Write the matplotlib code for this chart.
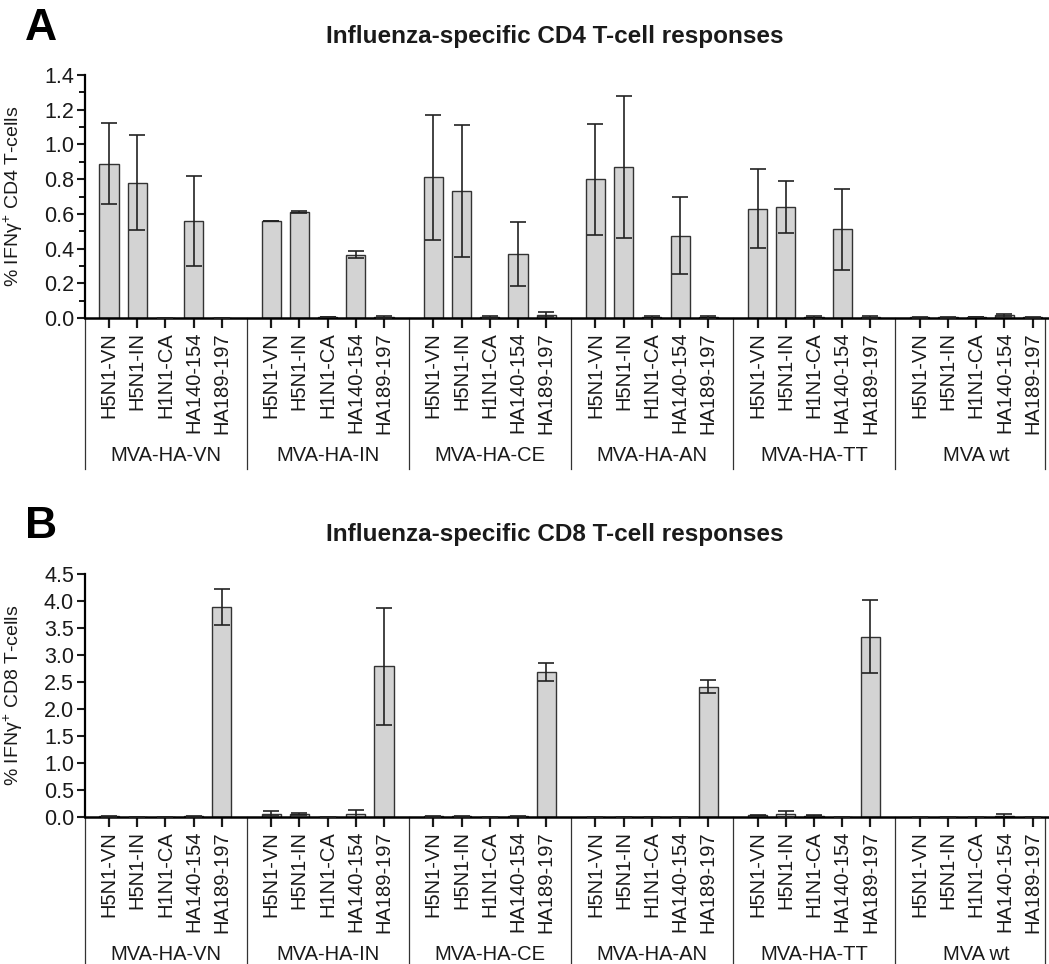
import numpy as np
import matplotlib
matplotlib.use("Agg")
import matplotlib.pyplot as plt
import matplotlib.transforms as mtransforms

plt.rcParams['font.family'] = ['Liberation Sans', 'DejaVu Sans']
plt.rcParams['mathtext.fontset'] = 'custom'
plt.rcParams['mathtext.rm'] = 'Liberation Sans'

peptides = ["H5N1-VN", "H5N1-IN", "H1N1-CA", "HA140-154", "HA189-197"]
groups = ["MVA-HA-VN", "MVA-HA-IN", "MVA-HA-CE", "MVA-HA-AN", "MVA-HA-TT", "MVA wt"]

# CD4 responses, 5 peptides per group
cd4_mean = [0.89, 0.78, 0.0, 0.56, 0.0,
            0.56, 0.61, 0.005, 0.365, 0.005,
            0.81, 0.73, 0.005, 0.37, 0.02,
            0.80, 0.87, 0.003, 0.475, 0.003,
            0.63, 0.64, 0.003, 0.51, 0.005,
            0.005, 0.004, 0.005, 0.015, 0.004]
cd4_err = [0.235, 0.275, 0.0, 0.26, 0.0,
           0.0, 0.005, 0.002, 0.02, 0.005,
           0.36, 0.38, 0.004, 0.185, 0.013,
           0.32, 0.41, 0.01, 0.22, 0.01,
           0.226, 0.15, 0.01, 0.235, 0.004,
           0.003, 0.003, 0.002, 0.008, 0.003]

# CD8 responses
cd8_mean = [0.01, 0.005, 0.003, 0.01, 3.89,
            0.06, 0.06, 0.0, 0.05, 2.79,
            0.015, 0.01, 0.0, 0.01, 2.68,
            0.002, 0.002, 0.0, 0.0, 2.41,
            0.03, 0.06, 0.02, 0.005, 3.34,
            0.0, 0.003, 0.0, 0.01, 0.0]
cd8_err = [0.005, 0.003, 0.002, 0.008, 0.34,
           0.05, 0.02, 0.0, 0.08, 1.08,
           0.01, 0.008, 0.0, 0.01, 0.17,
           0.001, 0.001, 0.0, 0.0, 0.12,
           0.01, 0.06, 0.01, 0.003, 0.68,
           0.0, 0.001, 0.0, 0.04, 0.0]

period = 5.745
xpos = np.array([g * period + i for g in range(len(groups)) for i in range(len(peptides))])
labels = peptides * len(groups)
edge_col = "#333333"
text_col = "#1a1a1a"

fig = plt.figure(figsize=(10.49, 9.64), dpi=100)


def panel(rect, means, errs, ymax, major, minor, ylabel, title, letter, title_y, letter_y):
    ax = fig.add_axes(rect)
    ax.bar(xpos, means, width=0.68, color="#d3d3d3", edgecolor=edge_col, linewidth=1.0, zorder=2)
    ax.errorbar(xpos, means, yerr=errs, fmt="none", ecolor="#222222",
                elinewidth=1.2, capsize=5.5, capthick=1.2, zorder=3)
    ax.set_xlim(-0.85, xpos[-1] + 0.58)
    ax.set_ylim(0, ymax)
    ax.set_yticks(np.arange(0, ymax + 1e-9, major))
    ax.set_yticklabels(["%.1f" % v for v in np.arange(0, ymax + 1e-9, major)])
    if minor:
        ax.set_yticks(np.arange(0, ymax + 1e-9, minor), minor=True)
    ax.set_xticks(xpos)
    ax.set_xticklabels(labels, rotation=90, fontsize=14.5, color=text_col)
    for s in ["top", "right"]:
        ax.spines[s].set_visible(False)
    ax.spines["left"].set_linewidth(1.6)
    ax.spines["bottom"].set_linewidth(1.8)
    ax.tick_params(axis="y", labelsize=15.5, length=6, width=1.5, pad=2, colors=text_col)
    ax.tick_params(axis="y", which="minor", length=4, width=1.3)
    ax.tick_params(axis="x", length=7, width=1.6, pad=3, colors=text_col)
    ax.set_ylabel(ylabel, fontsize=14, color=text_col)
    ax.yaxis.set_label_coords(-0.062, 0.5)

    # group separators and group names below the tick labels
    trans = mtransforms.blended_transform_factory(ax.transData, ax.transAxes)
    seps = [-0.85] + [xpos[g * 5 + 4] + (period - 4) / 2 for g in range(len(groups) - 1)] + [xpos[-1] + 0.45]
    for sx in seps:
        ax.plot([sx, sx], [0, -0.62], transform=trans, color="#333333", lw=0.9, clip_on=False)
    for g, name in enumerate(groups):
        cx = xpos[g * 5] + 2
        ax.text(cx, -0.565, name, transform=trans, ha="center", va="center", fontsize=14.5, color=text_col)

    fig.text(555 / 1049, title_y, title, ha="center", va="center", fontsize=17.5, fontweight="bold", color=text_col)
    fig.text(41 / 1049, letter_y, letter, ha="center", va="center", fontsize=32, fontweight="bold", color="black")
    return ax


panel([85 / 1049, 646 / 964, 964 / 1049, 243 / 964], cd4_mean, cd4_err, 1.4, 0.2, 0.1,
      "% IFNγ$^{+}$ CD4 T-cells", "Influenza-specific CD4 T-cell responses", "A",
      1 - 37 / 964, 1 - 28 / 964)
panel([85 / 1049, 147 / 964, 964 / 1049, 243 / 964], cd8_mean, cd8_err, 4.5, 0.5, None,
      "% IFNγ$^{+}$ CD8 T-cells", "Influenza-specific CD8 T-cell responses", "B",
      1 - 535 / 964, 1 - 527 / 964)

fig.savefig("out.png", dpi=100)
